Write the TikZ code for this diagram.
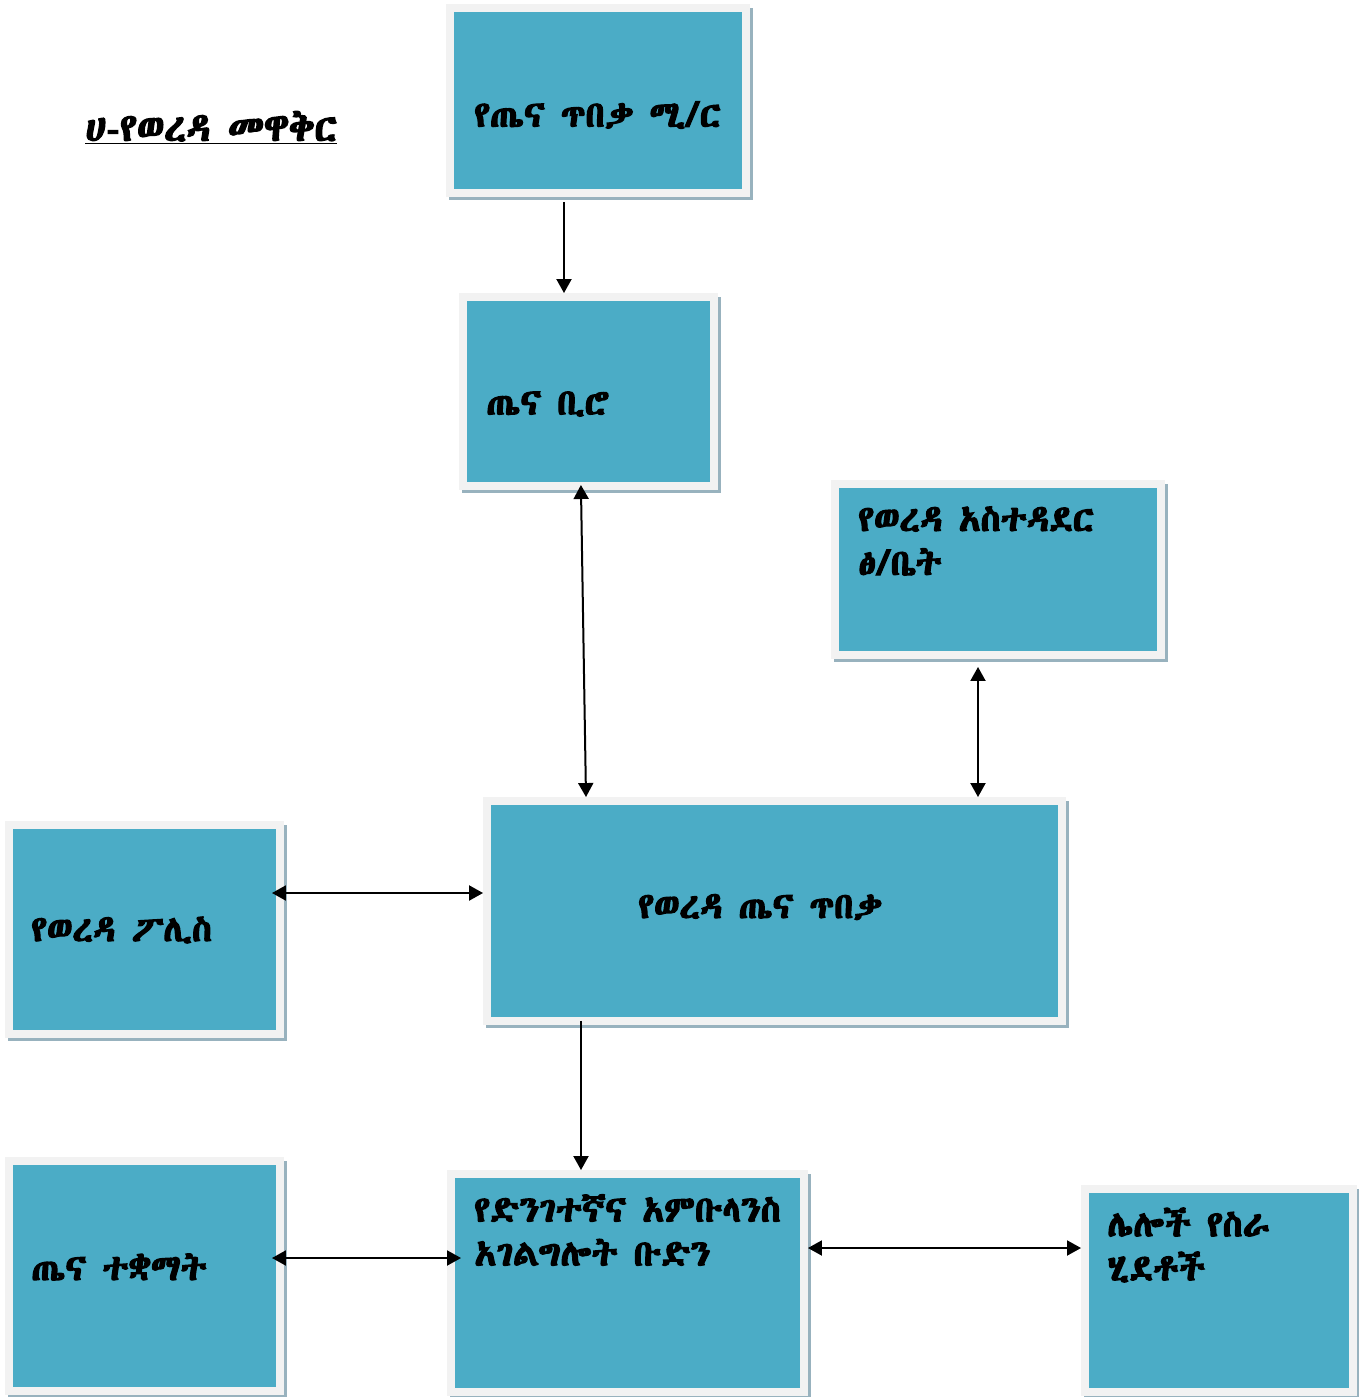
\documentclass[tikz,border=0pt]{standalone}
\usepackage{fontspec}
\newfontfamily\ethfont[FakeBold=3.5]{Abyssinica SIL}
\usetikzlibrary{arrows.meta,shadows}
\definecolor{caja}{HTML}{4BACC6}
\definecolor{borde}{HTML}{F2F2F2}
\definecolor{sombra}{HTML}{98B2BE}
\begin{document}
\begin{tikzpicture}[x=0.02cm,y=-0.02cm]
\tikzstyle{box} = [draw=borde, line width=0.16cm, fill=caja, inner sep=0,
                   drop shadow={shadow xshift=0.06cm, shadow yshift=-0.07cm,
                   fill=sombra, draw=sombra, line width=0.16cm, opacity=1}]
\tikzstyle{txt} = [anchor=west, inner sep=0, align=left,
                   font=\ethfont\fontsize{20.5}{25}\selectfont]
\tikzstyle{one} = [-{Triangle[length=0.28cm,width=0.3cm]}, line width=0.04cm]
\tikzstyle{both} = [{Triangle[length=0.28cm,width=0.3cm]}-{Triangle[length=0.28cm,width=0.3cm]}, line width=0.04cm]
\useasboundingbox (0,0) rectangle (1359,1397);
\node [txt, font=\ethfont\fontsize{22}{25}\selectfont] (v0) at (85,128) {\underline{ሀ-የወረዳ መዋቅር}};
\node [box, minimum width=5.92cm, minimum height=3.70cm] (v1) at (598,100.5) {};
\node [box, minimum width=5.02cm, minimum height=3.78cm] (v2) at (588.5,391.5) {};
\node [box, minimum width=6.52cm, minimum height=3.42cm] (v3) at (998,569.5) {};
\node [box, minimum width=11.50cm, minimum height=4.40cm] (v4) at (774.5,911) {};
\node [box, minimum width=5.42cm, minimum height=4.18cm] (v5) at (144.5,929.5) {};
\node [box, minimum width=5.42cm, minimum height=4.60cm] (v6) at (144.5,1276) {};
\node [box, minimum width=7.06cm, minimum height=4.36cm] (v7) at (627.5,1283) {};
\node [box, minimum width=5.36cm, minimum height=4.06cm] (v8) at (1219,1290.5) {};
\node [txt] (t1) at (474,115) {የጤና ጥበቃ ሚ/ር};
\node [txt] (t2) at (486,404) {ጤና ቢሮ};
\node [txt] (t3) at (858,541) {የወረዳ አስተዳደር\\ፅ/ቤት};
\node [txt] (t4) at (638,907) {የወረዳ ጤና ጥበቃ};
\node [txt] (t5) at (31,930) {የወረዳ ፖሊስ};
\node [txt] (t6) at (31,1267) {ጤና ተቋማት};
\node [txt] (t7) at (474,1230) {የድንገተኛና አምቡላንስ\\አገልግሎት ቡድን};
\node [txt] (t8) at (1107,1245) {ሌሎች የስራ\\ሂደቶች};
\draw [one, shorten <=0.1cm] (564,0 |- v1.south) -- (564,0 |- v2.north);
\draw [both, shorten <=-0.1cm] (581,0 |- v2.south) -- (586,0 |- v4.north);
\draw [both, shorten <=0.16cm] (978,0 |- v3.south) -- (978,0 |- v4.north);
\draw [both, shorten <=-0.24cm] (v5.east |- 0,893) -- (v4.west |- 0,893);
\draw [one, shorten <=-0.08cm] (581,0 |- v4.south) -- (581,0 |- v7.north);
\draw [both, shorten <=-0.24cm, shorten >=-0.28cm] (v6.east |- 0,1258) -- (v7.west |- 0,1258);
\draw [both] (v7.east |- 0,1248) -- (v8.west |- 0,1248);
\end{tikzpicture}
\end{document}
